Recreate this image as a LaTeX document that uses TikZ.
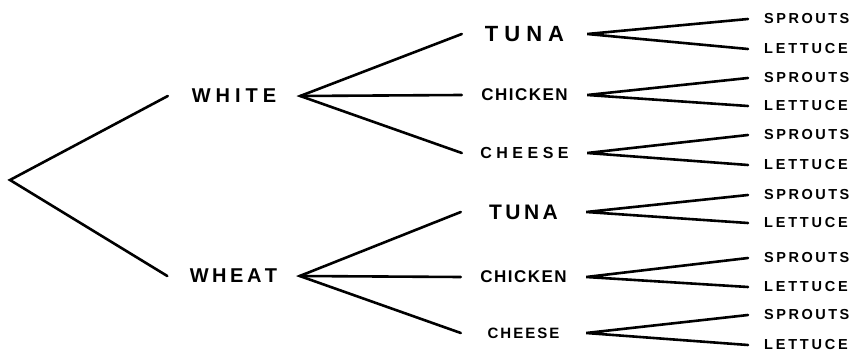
\documentclass[tikz,border=0pt]{standalone}
\usepackage{fontspec}
\setmainfont{Liberation Sans}
\newdimen\lsamt
\def\spaced#1#2{\lsamt=#1\relax\spacedx#2\relax}
\def\spacedx#1{\ifx#1\relax\kern-\lsamt\else#1\kern\lsamt\expandafter\spacedx\fi}
\tikzset{
  lone/.style={inner sep=0pt, minimum width=132pt, font=\bfseries\fontsize{20}{20}\selectfont},
  ltwo/.style={inner sep=0pt, minimum width=125pt, font=\bfseries\fontsize{17}{17}\selectfont},
  leaf/.style={anchor=west, inner xsep=16pt, inner ysep=0pt, font=\bfseries\fontsize{14.5}{14.5}\selectfont},
  branch/.style={line width=2.6pt, line cap=round}
}
\begin{document}
\begin{tikzpicture}[x=1pt,y=-1pt]
\useasboundingbox (0,0) rectangle (854,358);
\fill[white] (0,0) rectangle (854,358);
\coordinate (root) at (10,180);
\node[lone] (white) at (234,96) {\spaced{5pt}{WHITE}};
\node[lone] (wheat) at (233.5,276) {\spaced{3.5pt}{WHEAT}};
% level 2
\node[ltwo, font=\bfseries\fontsize{22}{22}\selectfont] (tunaA) at (524.5,34) {\spaced{6pt}{TUNA}};
\node[ltwo] (chickenA) at (524.5,95) {\spaced{1.5pt}{CHICKEN}};
\node[ltwo, font=\bfseries\fontsize{16}{16}\selectfont] (cheeseA) at (524.5,153) {\spaced{4.5pt}{CHEESE}};
\node[ltwo, font=\bfseries\fontsize{21}{21}\selectfont] (tunaB) at (523.5,212) {\spaced{3.5pt}{TUNA}};
\node[ltwo] (chickenB) at (523.5,277) {\spaced{1.5pt}{CHICKEN}};
\node[ltwo, font=\bfseries\fontsize{15}{15}\selectfont] (cheeseB) at (523.5,333) {\spaced{2pt}{CHEESE}};
% leaves
\node[leaf] (s1) at (748,19) {\spaced{2.5pt}{SPROUTS}};
\node[leaf] (l1) at (748,49) {\spaced{2.8pt}{LETTUCE}};
\node[leaf] (s2) at (748,78) {\spaced{2.5pt}{SPROUTS}};
\node[leaf] (l2) at (748,106) {\spaced{2.8pt}{LETTUCE}};
\node[leaf] (s3) at (748,135) {\spaced{2.5pt}{SPROUTS}};
\node[leaf] (l3) at (748,165) {\spaced{2.8pt}{LETTUCE}};
\node[leaf] (s4) at (748,195) {\spaced{2.5pt}{SPROUTS}};
\node[leaf] (l4) at (748,223) {\spaced{2.8pt}{LETTUCE}};
\node[leaf] (s5) at (748,258) {\spaced{2.5pt}{SPROUTS}};
\node[leaf] (l5) at (748,287) {\spaced{2.8pt}{LETTUCE}};
\node[leaf] (s6) at (748,315) {\spaced{2.5pt}{SPROUTS}};
\node[leaf] (l6) at (748,345) {\spaced{2.8pt}{LETTUCE}};
% connectors
\draw[branch] (white.west) -- (root) -- (wheat.west);
\draw[branch] (tunaA.west) -- (white.east) -- (cheeseA.west);
\draw[branch] (white.east) -- (chickenA.west);
\draw[branch] (tunaB.west) -- (wheat.east) -- (cheeseB.west);
\draw[branch] (wheat.east) -- (chickenB.west);
\draw[branch] (s1.west) -- (tunaA.east) -- (l1.west);
\draw[branch] (s2.west) -- (chickenA.east) -- (l2.west);
\draw[branch] (s3.west) -- (cheeseA.east) -- (l3.west);
\draw[branch] (s4.west) -- (tunaB.east) -- (l4.west);
\draw[branch] (s5.west) -- (chickenB.east) -- (l5.west);
\draw[branch] (s6.west) -- (cheeseB.east) -- (l6.west);
\end{tikzpicture}
\end{document}
